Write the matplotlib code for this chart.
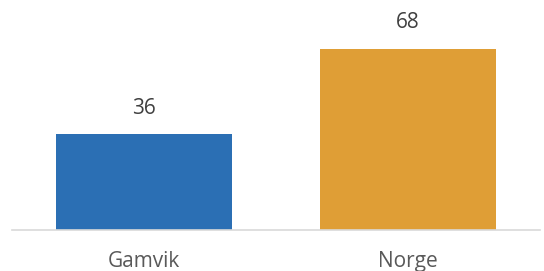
import matplotlib
matplotlib.use("Agg")
import matplotlib.pyplot as plt

categories = ["Gamvik", "Norge"]
values = [36, 68]
colors = ["#2B6FB4", "#DF9E36"]

plt.rcParams['font.family'] = ['Open Sans', 'DejaVu Sans']

fig = plt.figure(figsize=(5.44, 2.71), dpi=100)
ax = fig.add_axes([12/544, 41/271, 528/544, 230/271])
x = range(len(categories))
bars = ax.bar(x, values, width=0.67, color=colors, zorder=2)
ax.set_xlim(-0.5, 1.5)
ax.set_ylim(0, 86.3)
for b, v in zip(bars, values):
    ax.annotate(str(v), (b.get_x() + b.get_width()/2, v), xytext=(0, 11),
                textcoords='offset points', ha='center', va='bottom',
                fontsize=15, color='#404040')
ax.set_xticks(list(x))
ax.set_xticklabels(categories, fontsize=15, color='#595959')
ax.tick_params(axis='x', length=0, pad=15)
ax.set_yticks([])
for s in ['top', 'right', 'left']:
    ax.spines[s].set_visible(False)
ax.spines['bottom'].set_color('#D9D9D9')
ax.spines['bottom'].set_linewidth(1.2)
fig.savefig("out.png", dpi=100)
